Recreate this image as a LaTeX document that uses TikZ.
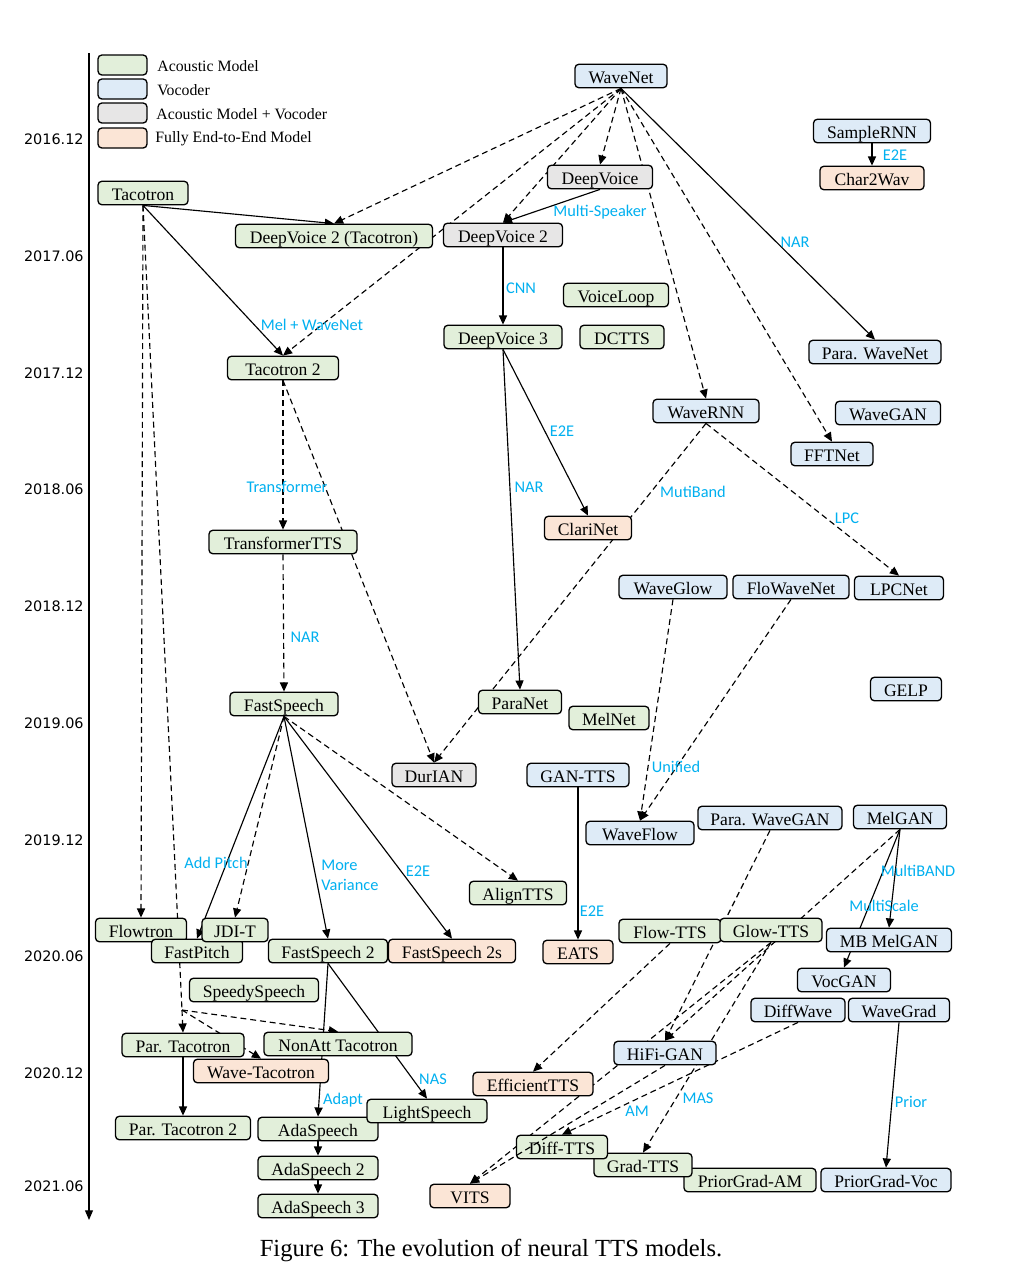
\documentclass[tikz,border=0pt]{standalone}
\usepackage{fontspec}
\setmainfont{Liberation Serif}
\newfontfamily\lblfamily{Carlito}
\newfontfamily\yearfamily{DejaVu Sans}
\usetikzlibrary{arrows.meta}
\pgfdeclarelayer{bg}
\pgfsetlayers{bg,main}
\definecolor{amfill}{RGB}{226,239,218}
\definecolor{vcfill}{RGB}{222,235,247}
\definecolor{avfill}{RGB}{231,230,230}
\definecolor{eefill}{RGB}{251,229,214}
\definecolor{lblcol}{RGB}{0,176,240}
\begin{document}
\begin{tikzpicture}[x=0.02cm, y=-0.02cm,
  box/.style={draw=black, line width=0.75pt, rounded corners=2.2pt,
    minimum height=0.47cm, inner sep=0pt, text height=2ex, text depth=0.2ex,
    font=\fontsize{10}{12}\selectfont},
  am/.style={box, fill=amfill},
  vc/.style={box, fill=vcfill},
  av/.style={box, fill=avfill},
  ee/.style={box, fill=eefill},
  bw/.style={minimum width=#1*0.02cm},
  swatch/.style={minimum height=0.4cm, minimum width=0.98cm},
  legtext/.style={anchor=west, inner sep=0pt, font=\fontsize{9}{11}\selectfont},
  conn/.style={line width=0.65pt, -{Triangle[length=5.2pt,width=4.6pt]}},
  dconn/.style={conn, dash pattern=on 3.4pt off 2.2pt},
  lbl/.style={font=\lblfamily\fontsize{9.3}{11.2}\selectfont, text=lblcol, inner sep=0pt},
  yr/.style={font=\yearfamily\fontsize{8.2}{10}\selectfont, anchor=east, inner sep=0pt}]

\useasboundingbox (0,0) rectangle (1032,1286);

% time axis
\coordinate (axtop) at (89,53);
\coordinate (axbot) at (89,1220);
\draw[line width=0.7pt, -{Triangle[length=5.5pt,width=4.5pt]}] (axtop) -- (axbot);
\node[yr] (y1) at (84,139)  {2016.12};
\node[yr] (y2) at (84,256)  {2017.06};
\node[yr] (y3) at (84,373)  {2017.12};
\node[yr] (y4) at (84,489)  {2018.06};
\node[yr] (y5) at (84,606)  {2018.12};
\node[yr] (y6) at (84,723)  {2019.06};
\node[yr] (y7) at (84,840)  {2019.12};
\node[yr] (y8) at (84,956)  {2020.06};
\node[yr] (y9) at (84,1073) {2020.12};
\node[yr] (y10) at (84,1186) {2021.06};

% legend
\node[am, swatch] (lgam) at (122.5,65) {};
\node[vc, swatch] (lgvc) at (122.5,89) {};
\node[av, swatch] (lgav) at (122.5,113) {};
\node[ee, swatch] (lgee) at (122.5,138) {};
\node[legtext] (lgamt) at (157,66) {Acoustic Model};
\node[legtext] (lgvct) at (157,90) {Vocoder};
\node[legtext] (lgavt) at (156,114) {Acoustic Model + Vocoder};
\node[legtext] (lgeet) at (155,139) {Fully End-to-End Model};

% models
\node[vc, bw=92]  (wavenet)      at (621,76)   {WaveNet};
\node[vc, bw=117] (samplernn)    at (872,131)  {SampleRNN};
\node[ee, bw=104] (char2wav)     at (872,178)  {Char2Wav};
\node[av, bw=105] (deepvoice)    at (600,177)  {DeepVoice};
\node[am, bw=90]  (tacotron)     at (143,193)  {Tacotron};
\node[am, bw=197] (dv2t)         at (334,236)  {DeepVoice 2 (Tacotron)};
\node[av, bw=119] (dv2)          at (503,235)  {DeepVoice 2};
\node[am, bw=105] (voiceloop)    at (616,295)  {VoiceLoop};
\node[am, bw=118] (dv3)          at (503,337)  {DeepVoice 3};
\node[am, bw=84]  (dctts)        at (622,337)  {DCTTS};
\node[vc, bw=132] (parawavenet)  at (875,352)  {Para. WaveNet};
\node[am, bw=111] (tacotron2)    at (283,368)  {Tacotron 2};
\node[vc, bw=106] (wavernn)      at (706,411)  {WaveRNN};
\node[vc, bw=105] (wavegan)      at (888,413)  {WaveGAN};
\node[vc, bw=82]  (fftnet)       at (832,454)  {FFTNet};
\node[ee, bw=87]  (clarinet)     at (588,528)  {ClariNet};
\node[am, bw=148] (transformertts) at (283,542) {TransformerTTS};
\node[vc, bw=108] (waveglow)     at (673,587)  {WaveGlow};
\node[vc, bw=116] (flowavenet)   at (791,587)  {FloWaveNet};
\node[vc, bw=89]  (lpcnet)       at (899,588)  {LPCNet};
\node[vc, bw=71]  (gelp)         at (906,689)  {GELP};
\node[am, bw=108] (fastspeech)   at (284,704)  {FastSpeech};
\node[am, bw=83]  (paranet)      at (520,702)  {ParaNet};
\node[am, bw=80]  (melnet)       at (609,718)  {MelNet};
\node[av, bw=84]  (durian)       at (434,775)  {DurIAN};
\node[vc, bw=102] (gantts)       at (578,775)  {GAN-TTS};
\node[vc, bw=108] (waveflow)     at (640,833)  {WaveFlow};
\node[vc, bw=144] (parawavegan)  at (770,818)  {Para. WaveGAN};
\node[vc, bw=93]  (melgan)       at (900,817)  {MelGAN};
\node[am, bw=97]  (aligntts)     at (518,893)  {AlignTTS};
\node[am, bw=91]  (flowtron)     at (141,930)  {Flowtron};
\node[am, bw=91]  (fastpitch)    at (197,951)  {FastPitch};
\node[am, bw=66]  (jdit)         at (235,930)  {JDI-T};
\node[am, bw=119] (fastspeech2)  at (328,951)  {FastSpeech 2};
\node[ee, bw=127] (fs2s)         at (452,951)  {FastSpeech 2s};
\node[ee, bw=70]  (eats)         at (578,952)  {EATS};
\node[am, bw=102] (flowtts)      at (670,931)  {Flow-TTS};
\node[am, bw=102] (glowtts)      at (771,930)  {Glow-TTS};
\node[vc, bw=125] (mbmelgan)     at (889,940)  {MB MelGAN};
\node[vc, bw=93]  (vocgan)       at (844,980)  {VocGAN};
\node[am, bw=129] (speedyspeech) at (254,990)  {SpeedySpeech};
\node[vc, bw=94]  (diffwave)     at (798,1010) {DiffWave};
\node[vc, bw=101] (wavegrad)     at (899,1010) {WaveGrad};
\node[vc, bw=102] (hifigan)      at (665,1053) {HiFi-GAN};
\node[am, bw=122] (partacotron)  at (183,1045) {Par. Tacotron};
\node[am, bw=148] (nonatt)       at (338,1044) {NonAtt Tacotron};
\node[ee, bw=135] (wavetacotron) at (261,1071) {Wave-Tacotron};
\node[ee, bw=120] (efficienttts) at (533,1084) {EfficientTTS};
\node[am, bw=135] (partacotron2) at (183,1128) {Par. Tacotron 2};
\node[am, bw=120] (adaspeech)    at (318,1129) {AdaSpeech};
\node[am, bw=120] (lightspeech)  at (427,1111) {LightSpeech};
\node[am, bw=132] (priorgradam)  at (750,1180) {PriorGrad-AM};
\node[am, bw=98]  (gradtts)      at (643,1165) {Grad-TTS};
\node[am, bw=91]  (difftts)      at (562,1147) {Diff-TTS};
\node[vc, bw=130] (priorgradvoc) at (886,1180) {PriorGrad-Voc};
\node[ee, bw=80]  (vits)         at (470,1196) {VITS};
\node[am, bw=120] (adaspeech2)   at (318,1168) {AdaSpeech 2};
\node[am, bw=120] (adaspeech3)   at (318,1206) {AdaSpeech 3};

\coordinate (tsplit) at (182,1010);

% connectors, kept behind the boxes
\begin{pgfonlayer}{bg}
\fill[white] (0,0) rectangle (1032,1286);
\draw[conn]  (tacotron.south) -- (dv2t.north);
\draw[dconn] (wavenet.south) -- (dv2t.north);
\draw[conn]  (tacotron.south) -- (tacotron2.north);
\draw[dconn] (wavenet.south) -- (tacotron2.north);
\draw[dconn] (wavenet.south) -- (deepvoice.north);
\draw[dconn] (wavenet.south) -- (dv2.north);
\draw[conn]  (deepvoice.south) -- (dv2.north);
\draw[dconn] (wavenet.south) -- (wavernn.north);
\draw[dconn] (wavenet.south) -- (fftnet.north);
\draw[conn]  (wavenet.south) -- (parawavenet.north);
\draw[conn]  (samplernn.south) -- (char2wav.north);
\draw[conn]  (dv2.south) -- (dv3.north);
\draw[conn]  (dv3.south) -- (paranet.north);
\draw[conn]  (dv3.south) -- (clarinet.north);
\draw[dconn] (tacotron2.south) -- (transformertts.north);
\draw[dconn] (tacotron2.south) -- (durian.north);
\draw[dconn] (transformertts.south) -- (fastspeech.north);
\draw[dconn] (wavernn.south) -- (durian.north);
\draw[dconn] (wavernn.south) -- (lpcnet.north);
\draw[dconn] (waveglow.south) -- (waveflow.north);
\draw[dconn] (flowavenet.south) -- (waveflow.north);
\draw[conn]  (gantts.south) -- (eats.north);
\draw[dconn] (fastspeech.south) -- (aligntts.north);
\draw[conn]  (fastspeech.south) -- (fastspeech2.north);
\draw[conn]  (fastspeech.south) -- (fs2s.north);
\draw[dconn] (fastspeech.south) -- (jdit.north);
\draw[conn]  (fastspeech.south) -- (fastpitch.north);
\draw[dconn] (tacotron.south) -- (flowtron.north);
\draw[dconn, -] (tacotron.south) -- (tsplit);
\draw[dconn] (tsplit) -- (partacotron.north);
\draw[dconn] (tsplit) -- (nonatt.north);
\draw[dconn] (tsplit) -- (wavetacotron.north);
\draw[conn]  (fastspeech2.south) -- (adaspeech.north);
\draw[conn]  (fastspeech2.south) -- (lightspeech.north);
\draw[conn]  (partacotron.south) -- (partacotron2.north);
\draw[conn]  (adaspeech.south) -- (adaspeech2.north);
\draw[conn]  (adaspeech2.south) -- (adaspeech3.north);
\draw[conn]  (melgan.south) -- (mbmelgan.north);
\draw[conn]  (melgan.south) -- (vocgan.north);
\draw[dconn] (melgan.south) -- (hifigan.north);
\draw[dconn] (parawavegan.south) -- (hifigan.north);
\draw[dconn] (flowtts.south) -- (efficienttts.north);
\draw[dconn] (glowtts.south) -- (gradtts.north);
\draw[dconn] (glowtts.south) -- (vits.north);
\draw[dconn] (diffwave.south) -- (difftts.north);
\draw[conn]  (wavegrad.south) -- (priorgradvoc.north);
\end{pgfonlayer}
\draw[dconn] (hifigan.south) -- (vits.north);

% connector labels
\node[lbl] (l1)  at (895,155)  {E2E};
\node[lbl] (l2)  at (795,242)  {NAR};
\node[lbl] (l3)  at (600,212)  {Multi-Speaker};
\node[lbl] (l4)  at (521,288)  {CNN};
\node[lbl] (l5)  at (312,325)  {Mel + WaveNet};
\node[lbl] (l6)  at (562,431)  {E2E};
\node[lbl] (l7)  at (529,487)  {NAR};
\node[lbl] (l8)  at (693,492)  {MutiBand};
\node[lbl] (l9)  at (847,518)  {LPC};
\node[lbl] (l10) at (287,487)  {Transformer};
\node[lbl] (l11) at (305,637)  {NAR};
\node[lbl] (l12) at (676,767)  {Unified};
\node[lbl] (l13) at (216,863)  {Add Pitch};
\node[lbl, anchor=west, align=left] (l14) at (321,875) {More\\Variance};
\node[lbl] (l15) at (418,871)  {E2E};
\node[lbl] (l16) at (592,911)  {E2E};
\node[lbl] (l17) at (918,871)  {MultiBAND};
\node[lbl] (l18) at (884,906)  {MultiScale};
\node[lbl] (l19) at (433,1079) {NAS};
\node[lbl] (l20) at (343,1100) {Adapt};
\node[lbl] (l21) at (637,1111) {AM};
\node[lbl] (l22) at (698,1098) {MAS};
\node[lbl] (l23) at (911,1102) {Prior};

% caption
\node[inner sep=0pt, font=\fontsize{14}{16}\selectfont] (caption) at (491,1250)
  {Figure 6: The evolution of neural TTS models.};
\end{tikzpicture}
\end{document}
